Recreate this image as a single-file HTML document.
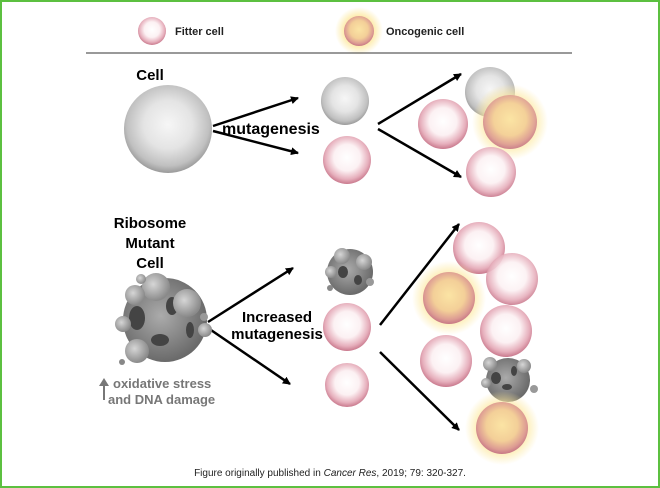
<!DOCTYPE html>
<html><head><style>
html,body{margin:0;padding:0;background:#fff}
.wrap{width:660px;height:488px;box-sizing:border-box;border:2px solid #5cc040;position:relative;overflow:hidden}
svg{position:absolute;left:-2px;top:-2px}
text{font-family:"Liberation Sans",Arial,sans-serif}
</style></head><body><div class="wrap">
<svg width="660" height="488" viewBox="0 0 660 488">
<defs>
<radialGradient id="pk" cx="50%" cy="45%" r="55%"><stop offset="0" stop-color="#fff"/><stop offset="0.5" stop-color="#fcf1f3"/><stop offset="0.82" stop-color="#e6afbc"/><stop offset="1" stop-color="#c9798d"/></radialGradient>
<radialGradient id="gy" cx="50%" cy="45%" r="55%"><stop offset="0" stop-color="#f6f6f6"/><stop offset="0.5" stop-color="#e4e4e4"/><stop offset="0.85" stop-color="#c0c0c0"/><stop offset="1" stop-color="#9a9a9a"/></radialGradient>
<radialGradient id="or" cx="50%" cy="45%" r="55%"><stop offset="0" stop-color="#fbe4a4"/><stop offset="0.55" stop-color="#f3cf98"/><stop offset="0.85" stop-color="#dd9c93"/><stop offset="1" stop-color="#c77886"/></radialGradient>
<radialGradient id="gl" cx="50%" cy="50%" r="50%"><stop offset="0.55" stop-color="#fde9a0"/><stop offset="1" stop-color="#fde9a0" stop-opacity="0"/></radialGradient>
<radialGradient id="mu" cx="45%" cy="45%" r="55%"><stop offset="0" stop-color="#ababab"/><stop offset="1" stop-color="#6a6a6a"/></radialGradient>
<radialGradient id="bb" cx="40%" cy="40%" r="60%"><stop offset="0" stop-color="#d6d6d6"/><stop offset="1" stop-color="#8a8a8a"/></radialGradient>
<marker id="ar" markerWidth="8" markerHeight="8" refX="7" refY="4" orient="auto" markerUnits="userSpaceOnUse"><path d="M0,0 L8,4 L0,8 z" fill="#000"/></marker>
</defs>
<!-- legend -->
<circle cx="152" cy="31" r="14" fill="url(#pk)"/>
<text x="175" y="35" font-size="11" font-weight="bold" fill="#222">Fitter cell</text>
<circle cx="359" cy="31" r="24" fill="url(#gl)"/>
<circle cx="359" cy="31" r="15" fill="url(#or)"/>
<text x="386" y="35" font-size="11" font-weight="bold" fill="#222">Oncogenic cell</text>
<line x1="86" y1="53" x2="572" y2="53" stroke="#333" stroke-width="1"/>
<!-- top row -->
<text x="150" y="80" font-size="15" font-weight="bold" text-anchor="middle">Cell</text>
<circle cx="168" cy="129" r="44" fill="url(#gy)"/>
<g stroke="#000" stroke-width="2.5" marker-end="url(#ar)">
<line x1="213" y1="126" x2="298" y2="98"/>
<line x1="213" y1="131" x2="298" y2="153"/>
<line x1="378" y1="124" x2="461" y2="74"/>
<line x1="378" y1="129" x2="461" y2="177"/>
<line x1="208" y1="322" x2="293" y2="268"/>
<line x1="208" y1="328" x2="290" y2="384"/>
<line x1="380" y1="325" x2="459" y2="224"/>
<line x1="380" y1="352" x2="459" y2="430"/>
</g>
<text x="222" y="134" font-size="16" font-weight="bold">mutagenesis</text>
<circle cx="345" cy="101" r="24" fill="url(#gy)"/>
<circle cx="347" cy="160" r="24" fill="url(#pk)"/>
<circle cx="490" cy="92" r="25" fill="url(#gy)"/>
<circle cx="443" cy="124" r="25" fill="url(#pk)"/>
<circle cx="510" cy="122" r="38" fill="url(#gl)"/>
<circle cx="510" cy="122" r="27" fill="url(#or)" opacity="0.92"/>
<circle cx="491" cy="172" r="25" fill="url(#pk)" opacity="0.92"/>
<!-- bottom row -->
<text font-size="15" font-weight="bold" text-anchor="middle"><tspan x="150" y="228">Ribosome</tspan><tspan x="150" y="248">Mutant</tspan><tspan x="150" y="268">Cell</tspan></text>
<g>
<circle cx="165" cy="320" r="42" fill="url(#mu)"/>
<ellipse cx="137" cy="318" rx="8" ry="12" fill="#444"/>
<ellipse cx="172" cy="306" rx="6" ry="9" fill="#444"/>
<ellipse cx="160" cy="340" rx="9" ry="6" fill="#444"/>
<ellipse cx="190" cy="330" rx="4" ry="8" fill="#444"/>
<circle cx="156" cy="287" r="14" fill="url(#bb)"/>
<circle cx="187" cy="303" r="14" fill="url(#bb)"/>
<circle cx="137" cy="351" r="12" fill="url(#bb)"/>
<circle cx="123" cy="324" r="8" fill="url(#bb)"/>
<circle cx="135" cy="295" r="10" fill="url(#bb)"/>
<circle cx="205" cy="330" r="7" fill="url(#bb)"/>
<circle cx="141" cy="279" r="5" fill="url(#bb)"/>
<circle cx="204" cy="317" r="4" fill="#999"/>
<circle cx="122" cy="362" r="3" fill="#888"/>
</g>
<g>
<circle cx="350" cy="272" r="23" fill="url(#mu)"/>
<ellipse cx="343" cy="272" rx="5" ry="6" fill="#444"/>
<ellipse cx="358" cy="280" rx="4" ry="5" fill="#444"/>
<circle cx="342" cy="256" r="8" fill="url(#bb)"/>
<circle cx="364" cy="262" r="8" fill="url(#bb)"/>
<circle cx="331" cy="272" r="6" fill="url(#bb)"/>
<circle cx="370" cy="282" r="4" fill="#999"/>
<circle cx="330" cy="288" r="3" fill="#888"/>
</g>
<text font-size="15" font-weight="bold" text-anchor="middle"><tspan x="277" y="322">Increased</tspan><tspan x="277" y="339">mutagenesis</tspan></text>
<circle cx="347" cy="327" r="24" fill="url(#pk)"/>
<circle cx="347" cy="385" r="22" fill="url(#pk)"/>
<circle cx="479" cy="248" r="26" fill="url(#pk)"/>
<circle cx="512" cy="279" r="26" fill="url(#pk)" opacity="0.9"/>
<circle cx="449" cy="298" r="37" fill="url(#gl)"/>
<circle cx="449" cy="298" r="26" fill="url(#or)"/>
<circle cx="506" cy="331" r="26" fill="url(#pk)"/>
<circle cx="446" cy="361" r="26" fill="url(#pk)"/>
<g>
<circle cx="508" cy="380" r="22" fill="url(#mu)"/>
<ellipse cx="496" cy="378" rx="5" ry="6" fill="#444"/>
<ellipse cx="514" cy="371" rx="3" ry="5" fill="#444"/>
<ellipse cx="507" cy="387" rx="5" ry="3" fill="#444"/>
<circle cx="490" cy="364" r="7" fill="url(#bb)"/>
<circle cx="524" cy="366" r="7" fill="url(#bb)"/>
<circle cx="486" cy="383" r="5" fill="url(#bb)"/>
<circle cx="534" cy="389" r="4" fill="#999"/>
</g>
<circle cx="502" cy="428" r="37" fill="url(#gl)"/>
<circle cx="502" cy="428" r="26" fill="url(#or)"/>
<!-- oxidative -->
<path d="M103,400 L103,386 L99,386 L104,378 L109,386 L105,386 L105,400 z" fill="#777"/>
<text font-size="13" font-weight="bold" fill="#777"><tspan x="113" y="388">oxidative stress</tspan><tspan x="108" y="404">and DNA damage</tspan></text>
<text x="330" y="476" font-size="10" text-anchor="middle" fill="#222">Figure originally published in <tspan font-style="italic">Cancer Res</tspan>, 2019; 79: 320-327.</text>
</svg>
</div></body></html>
